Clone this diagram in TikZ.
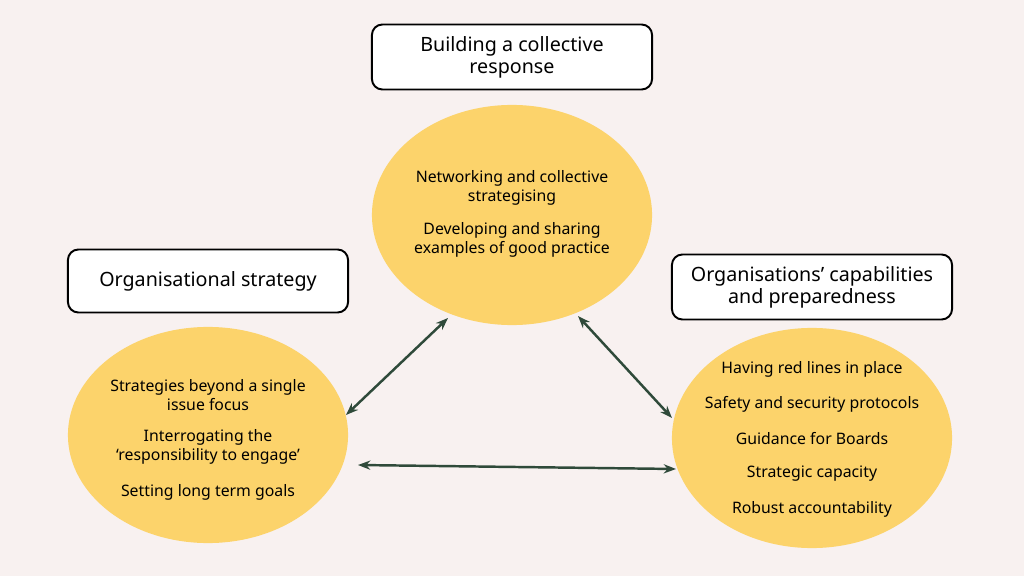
\documentclass[tikz,border=0pt]{standalone}
\usepackage{fontspec}
\setmainfont{Noto Sans}
\usetikzlibrary{arrows.meta, shapes.geometric}
\definecolor{bgpink}{HTML}{F8F1F0}
\definecolor{blobyellow}{HTML}{FCD36B}
\definecolor{linkgreen}{HTML}{2F4A3A}
\begin{document}
\begin{tikzpicture}[x=0.01cm,y=-0.01cm]
\fill[bgpink] (0,0) rectangle (1024,576);
\useasboundingbox (0,0) rectangle (1024,576);

\begin{scope}[every node/.style={ellipse,fill=blobyellow,inner sep=0pt,align=center,font=\fontsize{4.5}{5.6}\selectfont}]
    \node (top) at (512,215) [minimum width=2.8cm,minimum height=2.2cm] {};
    \node (left) at (208,435) [minimum width=2.8cm,minimum height=2.16cm] {};
    \node (right) at (812,438) [minimum width=2.8cm,minimum height=2.2cm] {};
\end{scope}

\begin{scope}[every node/.style={align=center,font=\fontsize{4.5}{5.3}\selectfont}]
    \node (toptxt) at (512,188) {Networking and collective\\strategising};
    \node (toptxt2) at (512,240) {Developing and sharing\\examples of good practice};
    \node (lefttxt) at (208,395) {Strategies beyond a single\\issue focus};
    \node (lefttxt2) at (208,447) {Interrogating the\\‘responsibility to engage’};
    \node (lefttxt3) at (208,492) {Setting long term goals};
    \node (r1) at (812,369) {Having red lines in place};
    \node (r2) at (812,404) {Safety and security protocols};
    \node (r3) at (812,439) {Guidance for Boards};
    \node (r4) at (812,474) {Strategic capacity};
    \node (r5) at (812,509) {Robust accountability};
\end{scope}

\begin{scope}[every node/.style={draw,rounded corners=3pt,line width=0.55pt,fill=white,align=center,inner sep=0pt,font=\fontsize{5.6}{6.2}\selectfont}]
    \node (toplab) at (512,57) [minimum width=2.8cm,minimum height=0.65cm] {Building a collective\\response};
    \node (leftlab) at (208,281) [minimum width=2.8cm,minimum height=0.63cm] {Organisational strategy};
    \node (rightlab) at (812,287) [minimum width=2.8cm,minimum height=0.65cm] {Organisations’ capabilities\\and preparedness};
\end{scope}

\coordinate (a1) at (448,318);
\coordinate (a2) at (346,415);
\coordinate (b1) at (578,316);
\coordinate (b2) at (672,418);
\coordinate (c1) at (358,465);
\coordinate (c2) at (676,469);

\begin{scope}[line width=0.7pt,draw=linkgreen,{Stealth[length=3.5pt]}-{Stealth[length=3.5pt]}]
    \draw[linkgreen] (a1) -- (a2);
    \draw[linkgreen] (b1) -- (b2);
    \draw[linkgreen] (c1) -- (c2);
\end{scope}
\end{tikzpicture}
\end{document}
